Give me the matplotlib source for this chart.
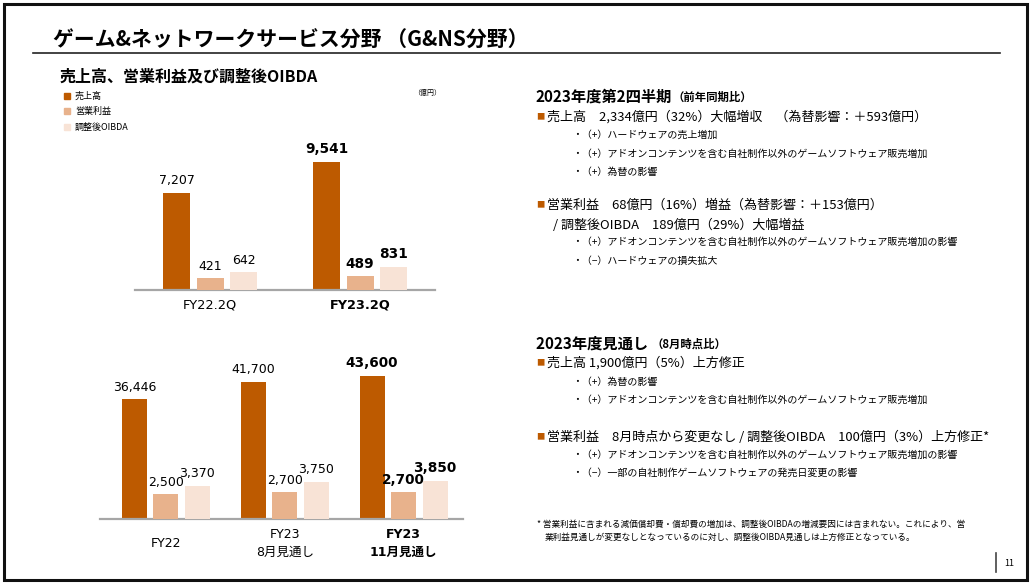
import matplotlib
matplotlib.use('Agg')
import matplotlib.pyplot as plt
from matplotlib.patches import Rectangle
from matplotlib.lines import Line2D

plt.rcParams['font.family'] = ['Noto Sans CJK JP', 'DejaVu Sans']

# Data
q_labels = ['FY22.2Q', 'FY23.2Q']
q_sales = [7207, 9541]
q_op = [421, 489]
q_oibda = [642, 831]

y_labels = ['FY22', 'FY23\n8月見通し', 'FY23\n11月見通し']
y_sales = [36446, 41700, 43600]
y_op = [2500, 2700, 2700]
y_oibda = [3370, 3750, 3850]

series_names = ['売上高', '営業利益', '調整後OIBDA']
colors = ['#BD5A00', '#E8B28C', '#F8E3D6']

W, H = 1032, 586
latin = ['DejaVu Sans', 'Noto Sans CJK JP']


def fx(x):
    return x / W


def fy(y):
    return 1 - y / H


fig = plt.figure(figsize=(W / 100, H / 100), dpi=100)

# slide frame
fig.patches.append(Rectangle((fx(4), fy(580)), fx(1023), 576 / H, transform=fig.transFigure,
                             fill=False, edgecolor='#111111', linewidth=2.2))
fig.lines.append(Line2D([fx(33), fx(1000)], [fy(53), fy(53)], transform=fig.transFigure,
                        color='#222222', linewidth=1.2))
fig.lines.append(Line2D([fx(996), fx(996)], [fy(553), fy(572)], transform=fig.transFigure,
                        color='#444444', linewidth=1.2))

fig.text(fx(53), fy(40), 'ゲーム&ネットワークサービス分野 （G&NS分野）', fontsize=15,
         fontweight='bold', va='center')
fig.text(fx(60), fy(77), '売上高、営業利益及び調整後OIBDA', fontsize=11.5, fontweight='bold',
         va='center')

# legend
for i, (name, c) in enumerate(zip(series_names, colors)):
    yy = [96, 111, 127][i]
    fig.patches.append(Rectangle((fx(64), fy(yy + 3)), 6 / W, 6 / H, transform=fig.transFigure,
                                 color=c))
    fig.text(fx(75), fy(yy), name, fontsize=6.5, va='center')
fig.text(fx(427), fy(93), '（億円）', fontsize=5, va='center', ha='center')


def draw_group(ax, labels, sales, op, oibda, width, step, fs, ymax, ymax2):
    # profit bars use their own (larger) scale, as on the slide
    ax2 = ax.twinx()
    for k, vals in enumerate([sales, op, oibda]):
        a = ax if k == 0 else ax2
        xs = [i + (k - 1) * step for i in range(len(vals))]
        bars = a.bar(xs, vals, width=width, color=colors[k], edgecolor='none')
        texts = a.bar_label(bars, labels=[f'{v:,}' for v in vals], padding=4, fontsize=fs,
                            family=['DejaVu Sans'])
        texts[-1].set_fontweight('bold')
        texts[-1].set_fontsize(fs + 0.8)
    ax.set_ylim(0, ymax)
    ax2.set_ylim(0, ymax2)
    for a in [ax, ax2]:
        for s in ['top', 'left', 'right']:
            a.spines[s].set_visible(False)
        a.set_yticks([])
        a.set_xticks([])
        a.patch.set_alpha(0)
    ax2.spines['bottom'].set_visible(False)
    ax.spines['bottom'].set_color('#A6A6A6')
    ax.spines['bottom'].set_linewidth(1.6)
    ax.spines['bottom'].set_zorder(5)


# quarterly chart
ax1 = fig.add_axes([fx(135), fy(290), 300 / W, 160 / H])
ax1.set_xlim(-0.5, 1.5)
draw_group(ax1, q_labels, q_sales, q_op, q_oibda, 0.18, 0.223, 9, 11890, 5776)
ax1.set_xlim(-0.5, 1.5)
for i, lbl in enumerate(q_labels):
    ax1.annotate(lbl, xy=(i, 0), xycoords=('data', 'axes fraction'), xytext=(0, -11),
                 textcoords='offset points', ha='center', va='center', fontsize=9.3,
                 family=latin, fontweight='bold' if i == len(q_labels) - 1 else 'normal')

# full-year chart
ax2 = fig.add_axes([fx(100), fy(519), 363 / W, 164 / H])
ax2.set_xlim(-0.555, 2.5)
draw_group(ax2, y_labels, y_sales, y_op, y_oibda, 0.21, 0.265, 9, 49850, 16565)
ax2.set_xlim(-0.555, 2.5)
for i, lbl in enumerate(y_labels):
    ax2.annotate(lbl, xy=(i, 0), xycoords=('data', 'axes fraction'), xytext=(0, -17.5),
                 textcoords='offset points', ha='center', va='center', fontsize=9,
                 family=latin, linespacing=1.45,
                 fontweight='bold' if i == len(y_labels) - 1 else 'normal')

# right-hand commentary
bullet_c = '#BD5A00'


def head(y, main, sub):
    t = fig.text(fx(536), fy(y), main, fontsize=11, fontweight='bold', va='center')
    fig.canvas.draw()
    bb = t.get_window_extent()
    fig.text(bb.x1 / W, fy(y), sub, fontsize=8.2, fontweight='bold', va='center')


def bullet(y, txt):
    fig.text(fx(536), fy(y), '■', fontsize=6, color=bullet_c, va='center')
    fig.text(fx(547), fy(y), txt, fontsize=9.4, va='center')


def sub(y, txt, x=572):
    fig.text(fx(x), fy(y), txt, fontsize=7.2, va='center')


head(97, '2023年度第2四半期', '（前年同期比）')
bullet(117, '売上高　2,334億円（32%）大幅増収　（為替影響：＋593億円）')
sub(135, '・（+）ハードウェアの売上増加')
sub(154, '・（+）アドオンコンテンツを含む自社制作以外のゲームソフトウェア販売増加')
sub(172, '・（+）為替の影響')
bullet(205, '営業利益　68億円（16%）増益（為替影響：＋153億円）')
fig.text(fx(553), fy(225), '/ 調整後OIBDA　189億円（29%）大幅増益', fontsize=9.4, va='center')
sub(242, '・（+）アドオンコンテンツを含む自社制作以外のゲームソフトウェア販売増加の影響')
sub(261, '・（−）ハードウェアの損失拡大')

head(344, '2023年度見通し ', '（8月時点比）')
bullet(363, '売上高 1,900億円（5%）上方修正')
sub(382, '・（+）為替の影響')
sub(400, '・（+）アドオンコンテンツを含む自社制作以外のゲームソフトウェア販売増加')
bullet(437, '営業利益　8月時点から変更なし / 調整後OIBDA　100億円（3%）上方修正*')
sub(455, '・（+）アドオンコンテンツを含む自社制作以外のゲームソフトウェア販売増加の影響')
sub(473, '・（−）一部の自社制作ゲームソフトウェアの発売日変更の影響')

fig.text(fx(537), fy(524), '* 営業利益に含まれる減価償却費・償却費の増加は、調整後OIBDAの増減要因には含まれない。これにより、営',
         fontsize=6.2, va='center')
fig.text(fx(545), fy(537), '業利益見通しが変更なしとなっているのに対し、調整後OIBDA見通しは上方修正となっている。',
         fontsize=6.2, va='center')
fig.text(fx(1004), fy(563), '11', fontsize=6.5, va='center')

fig.savefig('out.png', dpi=100)
